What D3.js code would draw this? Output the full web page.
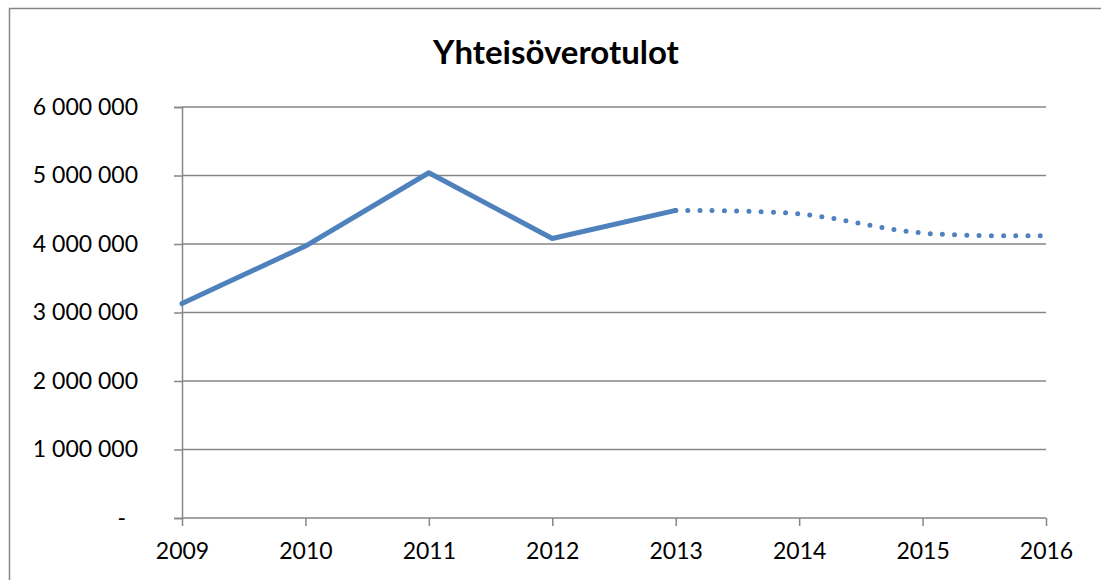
<!DOCTYPE html>
<html>
<head>
<meta charset="utf-8">
<script src="https://cdn.jsdelivr.net/npm/d3@7"></script>
<style>
  body { margin: 0; background: #fff; }
  text { font-family: Lato, "Open Sans", sans-serif; fill: #000; }
</style>
</head>
<body>
<div id="main"></div>
<script>
// data
const years = [2009, 2010, 2011, 2012, 2013, 2014, 2015, 2016]
const actual = [3130000, 3970000, 5040000, 4080000, 4490000]          // 2009-2013
const forecastYears = [2013, 2014, 2015, 2016]
const forecast = [4490000, 4440000, 4160000, 4120000]
const yTicks = [0, 1000000, 2000000, 3000000, 4000000, 5000000, 6000000]

const W = 1101, H = 580
const margin = { top: 107, right: 55, bottom: 62, left: 182 }
const width = W - margin.left - margin.right,
    height = H - margin.top - margin.bottom

const svg = d3.select("#main")
    .append("svg")
    .attr("width", W)
    .attr("height", H)

// chart frame (continues past right / bottom edge)
svg.append("rect")
    .attr("x", 9.5).attr("y", 8.5)
    .attr("width", W + 20).attr("height", H + 20)
    .attr("fill", "none")
    .attr("stroke", "#868686")
    .attr("stroke-width", 1.5)

svg.append("text")
    .attr("x", 556)
    .attr("y", 64)
    .style("text-anchor", "middle")
    .style("font-size", "33px")
    .style("font-weight", "bold")
    .text("Yhteisöverotulot")

const g = svg.append("g")
    .attr("transform", `translate(${margin.left},${margin.top})`)

const x = d3.scalePoint()
    .domain(years)
    .range([0, width])

const y = d3.scaleLinear()
    .domain([0, 6000000])
    .range([height, 0])

const fmt = v => v === 0 ? "-" : d3.format(",")(v).replace(/,/g, " ")

// y axis with gridlines
const yAxis = g.append("g")
    .call(d3.axisLeft(y).tickValues(yTicks).tickSize(8).tickFormat(fmt))
yAxis.select(".domain").attr("stroke", "#868686").attr("stroke-width", 1.5)
yAxis.selectAll(".tick line").attr("stroke", "#868686").attr("stroke-width", 1.5)
yAxis.selectAll(".tick text")
    .attr("x", d => d === 0 ? -56 : -44)
    .style("font-size", "23px")
    .style("font-family", "Lato, sans-serif")

g.append("g")
    .selectAll("line")
    .data(yTicks)
    .join("line")
    .attr("x1", 0).attr("x2", width)
    .attr("y1", d => y(d)).attr("y2", d => y(d))
    .attr("stroke", "#868686")
    .attr("stroke-width", 1.5)

// x axis
const xAxis = g.append("g")
    .attr("transform", `translate(0,${height})`)
    .call(d3.axisBottom(x).tickSize(8).tickSizeOuter(0))
xAxis.select(".domain").remove()
xAxis.selectAll(".tick line").attr("stroke", "#868686").attr("stroke-width", 1.5)
xAxis.selectAll(".tick text")
    .attr("y", 25)
    .style("font-size", "23px")
    .style("font-family", "Lato, sans-serif")

// actual values: solid
const line = d3.line()
    .x((d, i) => x(years[i]))
    .y(d => y(d))

g.append("path")
    .datum(actual)
    .attr("d", line)
    .attr("fill", "none")
    .attr("stroke", "#4F81BD")
    .attr("stroke-width", 5)
    .attr("stroke-linejoin", "round")
    .attr("stroke-linecap", "round")

// forecast: smoothed, dotted
const smooth = d3.line()
    .x((d, i) => x(forecastYears[i]))
    .y(d => y(d))
    .curve(d3.curveCatmullRom.alpha(0.5))

g.append("path")
    .datum(forecast)
    .attr("d", smooth)
    .attr("fill", "none")
    .attr("stroke", "#4F81BD")
    .attr("stroke-width", 5)
    .attr("stroke-linecap", "round")
    .attr("stroke-dasharray", "0 12.2")
    .attr("stroke-dashoffset", -12.2)
</script>
</body>
</html>
